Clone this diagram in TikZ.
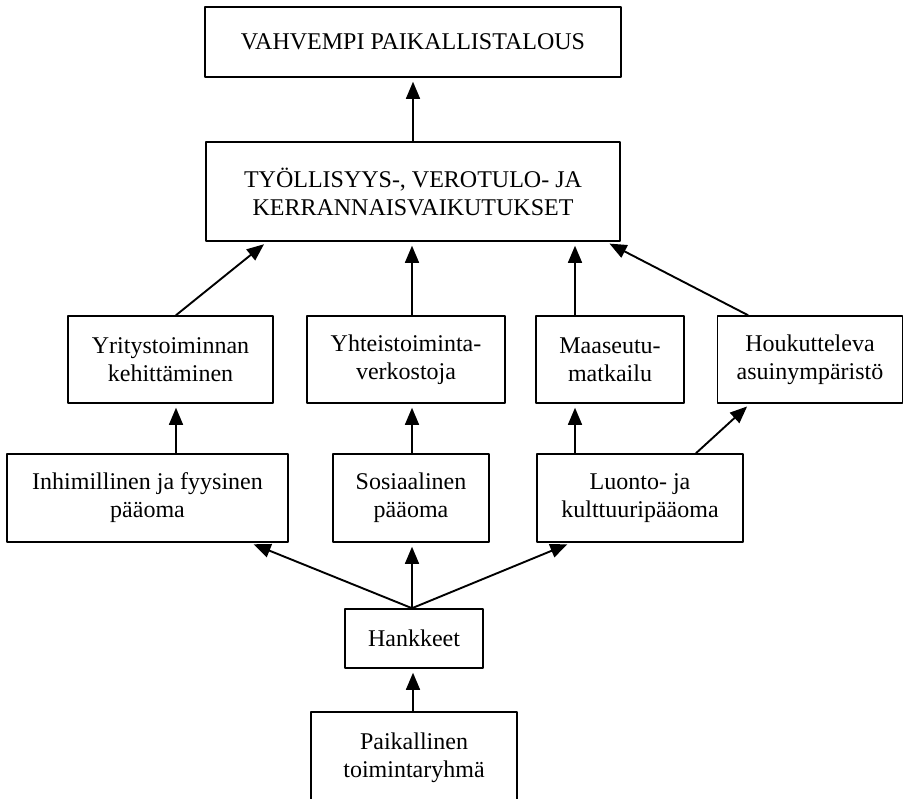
\documentclass[tikz,border=0pt]{standalone}
\usepackage{fontspec}
\setmainfont{Liberation Serif}
\usetikzlibrary{arrows}

\begin{document}
\begin{tikzpicture}[line cap=round,line join=round,>=triangle 45,x=0.5pt,y=-0.5pt,
    laatikko/.style={draw,line width=0.8pt,align=center,inner sep=0pt,font=\fontsize{12}{14}\selectfont},
    nuoli/.style={->,line width=0.95pt,shorten >=2pt}]
      \useasboundingbox (0,0) rectangle (904,798);
      \node[laatikko,minimum width=208pt,minimum height=35pt] (talous) at (413,42) {VAHVEMPI PAIKALLISTALOUS};
      \node[laatikko,minimum width=207pt,minimum height=49.5pt] (vaikutus) at (413,191.5) {TYÖLLISYYS-, VEROTULO- JA\\KERRANNAISVAIKUTUKSET};
      \node[laatikko,minimum width=102.5pt,minimum height=43.5pt] (yritys) at (170.5,359.5) {Yritystoiminnan\\kehittäminen};
      \node[laatikko,minimum width=99pt,minimum height=43.5pt] (yhteis) at (406,359.5) {Yhteistoiminta-\\verkostoja};
      \node[laatikko,minimum width=74pt,minimum height=43.5pt] (matkailu) at (610,359.5) {Maaseutu-\\matkailu};
      \node[laatikko,minimum width=92.5pt,minimum height=43.5pt] (asuin) at (810,359.5) {Houkutteleva\\asuinympäristö};
      \node[laatikko,minimum width=140.5pt,minimum height=44pt] (inhim) at (147.5,498) {Inhimillinen ja fyysinen\\pääoma};
      \node[laatikko,minimum width=78pt,minimum height=44pt] (sosiaal) at (411,498) {Sosiaalinen\\pääoma};
      \node[laatikko,minimum width=103pt,minimum height=44pt] (luonto) at (640,498) {Luonto- ja\\kulttuuripääoma};
      \node[laatikko,minimum width=69pt,minimum height=29.5pt] (hankkeet) at (414,638.5) {Hankkeet};
      \node[laatikko,minimum width=103pt,minimum height=46pt] (ryhma) at (414,758) {Paikallinen\\toimintaryhmä};
      \draw[nuoli] (vaikutus.north) -- (talous.south);
      \foreach \a/\sa/\b/\sb in {yritys/5.5/vaikutus/-146,yhteis/6/vaikutus/-1,matkailu/-35/vaikutus/162,asuin/-62/vaikutus/193,
        inhim/28.5/yritys/5.5,sosiaal/1/yhteis/6,luonto/-65/matkailu/-35,luonto/56/asuin/-60,
        hankkeet/-2/inhim/102.5,hankkeet/-2/sosiaal/1,hankkeet/-2/luonto/-69,ryhma/-1/hankkeet/-1}
      \draw[nuoli] ([shift={(\sa,0)}]\a.north) -- ([shift={(\sb,0)}]\b.south);
    \end{tikzpicture}
\end{document}
